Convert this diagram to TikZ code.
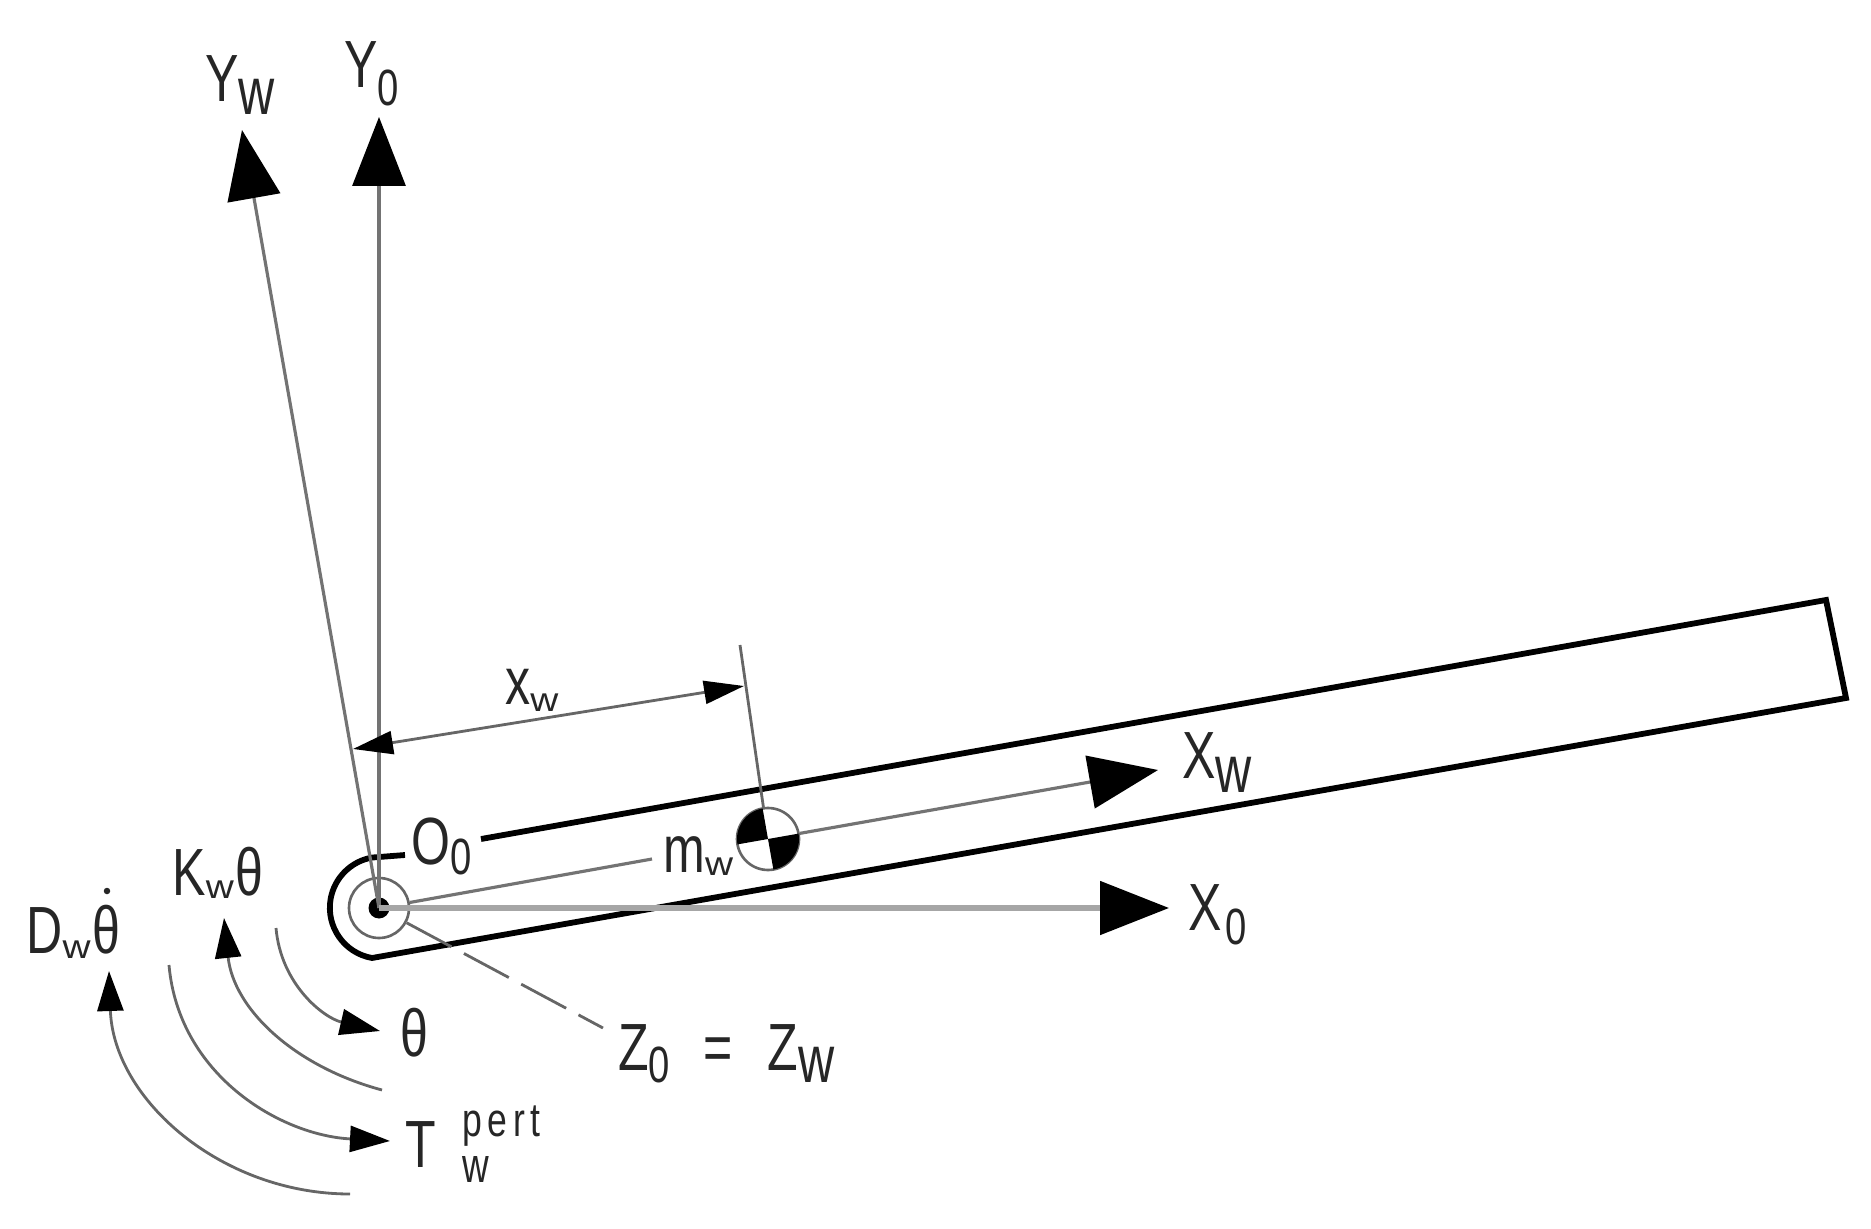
\documentclass[tikz,border=0pt]{standalone}
\usepackage{fontspec}
\usepackage{graphicx}
\usetikzlibrary{arrows.meta}
\newfontfamily\labelfont[FakeStretch=0.75,LetterSpace=0]{Liberation Sans}
\newfontfamily\pertfont[FakeStretch=0.75,LetterSpace=12]{Liberation Sans}
\newcommand{\lowtxt}[3]{\raisebox{-#1}{\fontsize{#2}{#2}\selectfont #3}}
\newcommand{\widew}[1]{\raisebox{-#1}{\scalebox{1.55}[1]{\fontsize{19pt}{19pt}\selectfont w}}}
\begin{document}
\begin{tikzpicture}[
		x=0.02cm,y=0.02cm,
		lbl/.style={anchor=base west,inner sep=0pt,text=black!85,font=\labelfont\fontsize{38pt}{38pt}\selectfont},
		barline/.style={line width=3.3pt,black,miter limit=10},
		axisbig/.style={-{Triangle[length=1.38cm,width=1.06cm,black]}},
		axisthin/.style={line width=1.8pt,black!55},
		dimtip/.style={line width=1.6pt,black!60,{Triangle[length=0.8cm,width=0.46cm,black]}-{Triangle[length=0.8cm,width=0.46cm,black]}},
		curve/.style={line width=1.6pt,black!60},
		curvetip/.style={curve,-{Triangle[length=0.8cm,width=0.52cm,black]}}
	]
	\useasboundingbox (0,0) rectangle (1871,1228);
	% points of the bar and free ends
	\coordinate (bartop) at (481,389);
	\coordinate (bartr) at (1826,628);
	\coordinate (barbr) at (1846,530);
	\coordinate (barbl) at (372,270);
	\coordinate (barend) at (405,373);
	\coordinate (ywtip) at (242,1098);
	\coordinate (y0tip) at (379,1111);
	\coordinate (x0tip) at (1169,320);
	\coordinate (xwtip) at (1158,458);
	\coordinate (xwgap) at (652,369);
	\coordinate (dimleft) at (353,479);
	\coordinate (dimright) at (744,542);
	\coordinate (wittop) at (740,583);
	\coordinate (zend) at (603,200);
	% bar
	\draw[barline] (bartop) -- (bartr) -- (barbr) -- (barbl)
		arc[start angle=260,end angle=100,radius=51] -- (barend);
	% hub and centre of mass
	\node (hub) [circle,draw=black!60,line width=1.5pt,minimum size=1.2cm,inner sep=0pt] at (379,320) {};
	\node (dot) [circle,fill=black,minimum size=0.42cm,inner sep=0pt] at (379,320) {};
	\node (cg) [circle,draw=black!60,line width=1.5pt,minimum size=1.24cm,inner sep=0pt] at (768,389) {};
	\fill (cg.center) -- ++(100:31) arc[start angle=100,end angle=190,radius=31] -- cycle;
	\fill (cg.center) -- ++(280:31) arc[start angle=280,end angle=370,radius=31] -- cycle;
	% axes
	\draw[axisthin,axisbig] (hub.center) -- (y0tip);
	\draw[axisthin,axisbig] (hub.center) -- (ywtip);
	\draw[line width=2.9pt,black!35,axisbig] (hub.center) -- (x0tip);
	\draw[axisthin] (hub) -- (xwgap);
	\draw[axisthin,axisbig] (cg) -- (xwtip);
	% dimension
	\draw[dimtip] (dimleft) -- (dimright);
	\draw[curve] (cg) -- (wittop);
	\draw[curve,dash pattern=on 29pt off 8pt] (hub) -- (zend);
	% moments
	\coordinate (thstart) at (276,300);
	\coordinate (thtip) at (380,197);
	\coordinate (kstart) at (382,138);
	\coordinate (ktip) at (224,310);
	\coordinate (tstart) at (169,263);
	\coordinate (ttip) at (390,87);
	\coordinate (dstart) at (350,34);
	\coordinate (dtip) at (109,257);
	\draw[curvetip] (thstart) to[out=-85,in=167] (thtip);
	\draw[curvetip] (kstart) to[out=165,in=-84] (ktip);
	\draw[curvetip] (tstart) to[out=-85,in=177] (ttip);
	\draw[curvetip] (dstart) to[out=180,in=-88] (dtip);
	% labels
	\node[lbl] (yw) at (205,1126) {Y\lowtxt{7.4pt}{38pt}{w}};
	\node[lbl] (y0) at (344,1140) {Y\lowtxt{10pt}{29pt}{0}};
	\node[lbl] (x0) at (1188,298) {X\hspace{2pt}\lowtxt{8pt}{29pt}{0}};
	\node[lbl] (xw) at (1182,450) {X\lowtxt{8pt}{38pt}{w}};
	\node[lbl] (o0) at (411,364) {O\lowtxt{6pt}{29pt}{0}};
	\node[lbl] (mw) at (663,356) {m\widew{2pt}};
	\node[lbl] (xdim) at (505,524) {x\widew{4pt}};
	\node[lbl] (kw) at (172,333) {K\widew{2pt}\hspace{1pt}θ};
	\node[lbl] (dw) at (26,275) {D\widew{3pt}\hspace{1pt}θ};
	\node (thdot) [circle,fill=black!85,minimum size=0.13cm,inner sep=0pt] at (107,337) {};
	\node[lbl] (th) at (400,172) {θ};
	\node[lbl] (z0) at (618,158) {Z\lowtxt{7pt}{29pt}{0}\hspace{19pt}=\hspace{20pt}Z\lowtxt{7pt}{38pt}{w}};
	\node[lbl] (tw) at (405,61) {T};
	\node[lbl,font=\pertfont\fontsize{27pt}{27pt}\selectfont] (pert) at (462,92) {pert};
	\node[lbl,font=\labelfont\fontsize{28pt}{28pt}\selectfont] (pw) at (462,46) {w};
\end{tikzpicture}
\end{document}
